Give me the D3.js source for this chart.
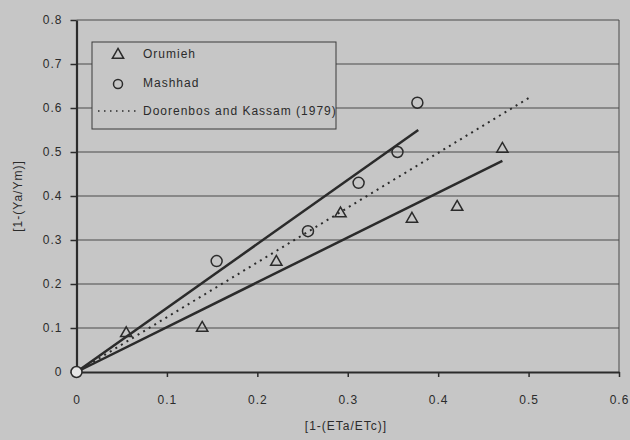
<!DOCTYPE html>
<html>
<head>
<meta charset="utf-8">
<script src="https://cdn.jsdelivr.net/npm/d3@7"></script>
<style>
  body { margin: 0; background: #c6c6c6; }
  svg { display: block; font-family: "Liberation Sans", Arial, sans-serif; }
  text { fill: #2b2b2b; }
</style>
</head>
<body>
<div id="chart-container"></div>
<script>
// data
var xTicks = [0, 0.1, 0.2, 0.3, 0.4, 0.5, 0.6]
var yTicks = [0, 0.1, 0.2, 0.3, 0.4, 0.5, 0.6, 0.7, 0.8]

var orumieh = [
    {x: 0.055, y: 0.088}, {x: 0.139, y: 0.100}, {x: 0.221, y: 0.250},
    {x: 0.292, y: 0.360}, {x: 0.371, y: 0.348}, {x: 0.421, y: 0.375},
    {x: 0.471, y: 0.507}
]
var mashhad = [
    {x: 0, y: 0}, {x: 0.155, y: 0.252}, {x: 0.256, y: 0.320},
    {x: 0.312, y: 0.430}, {x: 0.355, y: 0.500}, {x: 0.377, y: 0.612}
]

// fitted lines (end points)
var mashhadFit = [{x: 0, y: 0}, {x: 0.378, y: 0.550}]
var orumiehFit = [{x: 0, y: 0}, {x: 0.471, y: 0.480}]
var doorenbos = [{x: 0, y: 0}, {x: 0.502, y: 0.625}]

var legendLabels = ['Orumieh', 'Mashhad', 'Doorenbos and Kassam (1979)']

var width = 630, height = 440
var ink = '#2b2b2b'

var x = d3.scaleLinear().domain([0, 0.6]).range([76.5, 619])
var y = d3.scaleLinear().domain([0, 0.8]).range([372, 20])

var svg = d3.select('#chart-container')
    .append('svg')
    .attr('width', width)
    .attr('height', height)

// gridlines
svg.append('g')
    .selectAll('line')
    .data(yTicks.filter(d => d > 0))
    .join('line')
    .attr('x1', x(0)).attr('x2', x(0.6))
    .attr('y1', d => y(d)).attr('y2', d => y(d))
    .attr('stroke', '#4a4a4a')
    .attr('stroke-width', 1)

// right frame
svg.append('line')
    .attr('x1', x(0.6)).attr('x2', x(0.6))
    .attr('y1', y(0.8)).attr('y2', y(0))
    .attr('stroke', '#4a4a4a')

// axes
var xAxis = g => g
    .attr('transform', `translate(0,${y(0)})`)
    .call(d3.axisBottom(x).tickValues(xTicks).tickFormat(d3.format('~g'))
        .tickSize(5).tickSizeOuter(0).tickPadding(18))
    .call(g => g.select('.domain').attr('stroke', ink).attr('stroke-width', 2.2))
    .call(g => g.selectAll('.tick line').attr('stroke', ink).attr('stroke-width', 1.5))
    .call(g => g.selectAll('.tick text').attr('font-size', 12).attr('letter-spacing', 1).attr('fill', ink))

var yAxis = g => g
    .attr('transform', `translate(${x(0)},0)`)
    .call(d3.axisLeft(y).tickValues(yTicks).tickFormat(d3.format('~g'))
        .tickSize(6).tickSizeOuter(0).tickPadding(8))
    .call(g => g.select('.domain').attr('stroke', ink).attr('stroke-width', 2.2))
    .call(g => g.selectAll('.tick line').attr('stroke', ink).attr('stroke-width', 1.5))
    .call(g => g.selectAll('.tick text').attr('font-size', 12).attr('letter-spacing', 1).attr('fill', ink))

svg.append('g').call(xAxis)
svg.append('g').call(yAxis)

// axis titles
svg.append('text')
    .attr('x', 346).attr('y', 430)
    .attr('text-anchor', 'middle')
    .attr('font-size', 12).attr('letter-spacing', 1)
    .text('[1-(ETa/ETc)]')

svg.append('text')
    .attr('transform', 'translate(22,196) rotate(-90)')
    .attr('text-anchor', 'middle')
    .attr('font-size', 12).attr('letter-spacing', 1)
    .text('[1-(Ya/Ym)]')

// lines
var line = d3.line().x(d => x(d.x)).y(d => y(d.y))

svg.append('path').datum(orumiehFit)
    .attr('d', line).attr('fill', 'none')
    .attr('stroke', ink).attr('stroke-width', 2.5)

svg.append('path').datum(mashhadFit)
    .attr('d', line).attr('fill', 'none')
    .attr('stroke', ink).attr('stroke-width', 2.5)

svg.append('path').datum(doorenbos)
    .attr('d', line).attr('fill', 'none')
    .attr('stroke', ink).attr('stroke-width', 2)
    .attr('stroke-dasharray', '2,4.5')

// markers
var tri = d3.symbol().type(d3.symbolTriangle).size(55)

svg.append('g')
    .selectAll('path')
    .data(orumieh)
    .join('path')
    .attr('d', tri)
    .attr('transform', d => `translate(${x(d.x)},${y(d.y)})`)
    .attr('fill', 'none')
    .attr('stroke', ink).attr('stroke-width', 1.5)

svg.append('g')
    .selectAll('circle')
    .data(mashhad)
    .join('circle')
    .attr('cx', d => x(d.x)).attr('cy', d => y(d.y))
    .attr('r', 5.5)
    .attr('fill', d => d.x == 0 ? '#e6e6e6' : 'none')
    .attr('stroke', ink).attr('stroke-width', 1.5)

// legend
var lg = svg.append('g').attr('transform', 'translate(92,42)')

lg.append('rect')
    .attr('width', 244).attr('height', 87)
    .attr('fill', '#c6c6c6')
    .attr('stroke', '#3a3a3a').attr('stroke-width', 1)

lg.append('path')
    .attr('d', tri)
    .attr('transform', 'translate(26,13)')
    .attr('fill', 'none').attr('stroke', ink).attr('stroke-width', 1.5)

lg.append('circle')
    .attr('cx', 26).attr('cy', 42).attr('r', 4.5)
    .attr('fill', 'none').attr('stroke', ink).attr('stroke-width', 1.5)

lg.append('line')
    .attr('x1', 6).attr('x2', 46).attr('y1', 69).attr('y2', 69)
    .attr('stroke', ink).attr('stroke-width', 1.5)
    .attr('stroke-dasharray', '1.5,4.5')

lg.selectAll('text.lbl')
    .data(legendLabels)
    .join('text')
    .attr('class', 'lbl')
    .attr('x', 51)
    .attr('y', (d, i) => 16 + i * 28.7)
    .attr('font-size', 12).attr('letter-spacing', 1)
    .text(d => d)
</script>
</body>
</html>
